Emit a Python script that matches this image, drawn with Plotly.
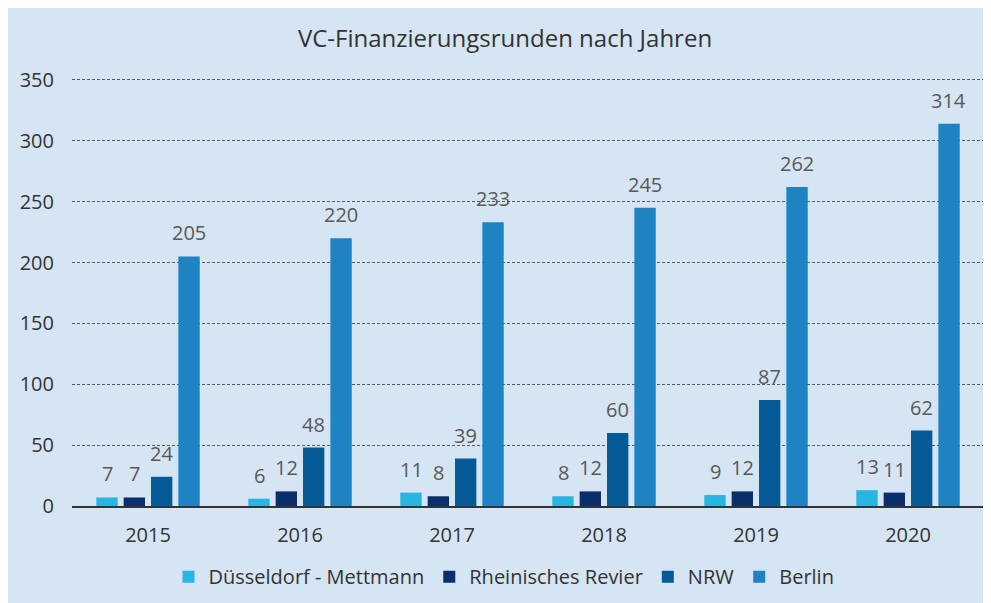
import plotly.graph_objects as go

years = ["2015", "2016", "2017", "2018", "2019", "2020"]
series_names = ["Düsseldorf - Mettmann", "Rheinisches Revier", "NRW", "Berlin"]
duesseldorf = [7, 6, 11, 8, 9, 13]
rheinisches = [7, 12, 8, 12, 12, 11]
nrw = [24, 48, 39, 60, 87, 62]
berlin = [205, 220, 233, 245, 262, 314]
y_ticks = [0, 50, 100, 150, 200, 250, 300, 350]

colors = ["#29b5e1", "#0a2f6a", "#045b97", "#1f82c3"]
bg = "#d5e5f3"
font_family = "Open Sans, Noto Sans, sans-serif"

all_series = [duesseldorf, rheinisches, nrw, berlin]

fig = go.Figure()
for name, vals, col in zip(series_names, all_series, colors):
    fig.add_trace(go.Bar(
        x=years, y=vals, name=name,
        marker=dict(color=col, line=dict(width=0)),
    ))

# data labels above bars (x given as category index)
slot_px = 27.2
annotations = []
for i, vals in enumerate(all_series):
    for k, v in enumerate(vals):
        annotations.append(dict(
            x=k, y=v, xref="x", yref="y", text=str(v), showarrow=False,
            xshift=(i - 1.5) * slot_px, yanchor="bottom", yshift=8,
            font=dict(family=font_family, size=20, color="#595959"),
        ))

# page has an 8px body margin, so the figure is offset by 8px
W, H = 983, 595
L, R, T, B = 64, 7, 70, 95
pw, ph = W - L - R, H - T - B

fig.update_layout(
    width=W, height=H,
    margin=dict(l=L, r=R, t=T, b=B),
    paper_bgcolor=bg,
    plot_bgcolor=bg,
    barmode="group",
    bargap=0.28,
    bargroupgap=0.22,
    title=dict(text="VC-Finanzierungsrunden nach Jahren", x=497 / W, xanchor="center",
               y=1 - 31 / H, yanchor="middle",
               font=dict(family=font_family, size=24, color="#333333")),
    font=dict(family=font_family, color="#333333"),
    showlegend=True,
    legend=dict(orientation="h", x=(496 - L) / pw, xanchor="center", y=-(571 - (T + ph)) / ph,
                yanchor="middle",
                font=dict(family=font_family, size=20, color="#333333"),
                bgcolor="rgba(0,0,0,0)", itemwidth=30, traceorder="normal"),
    annotations=annotations,
    xaxis=dict(
        type="category", range=[-0.5, 5.5], showgrid=False, showline=True,
        linecolor="#333333", linewidth=1.5,
        ticks="", tickfont=dict(family=font_family, size=20, color="#333333"),
        ticklabelstandoff=10, zeroline=False,
    ),
    yaxis=dict(
        range=[0, 351.6], tickvals=y_ticks, showgrid=True, gridcolor="#5a5a5a", gridwidth=1,
        griddash="3px,2px", zeroline=False, showline=False, ticks="",
        tickfont=dict(family=font_family, size=20, color="#333333"),
        ticklabelstandoff=17,
    ),
)

fig.write_html("out.html")
